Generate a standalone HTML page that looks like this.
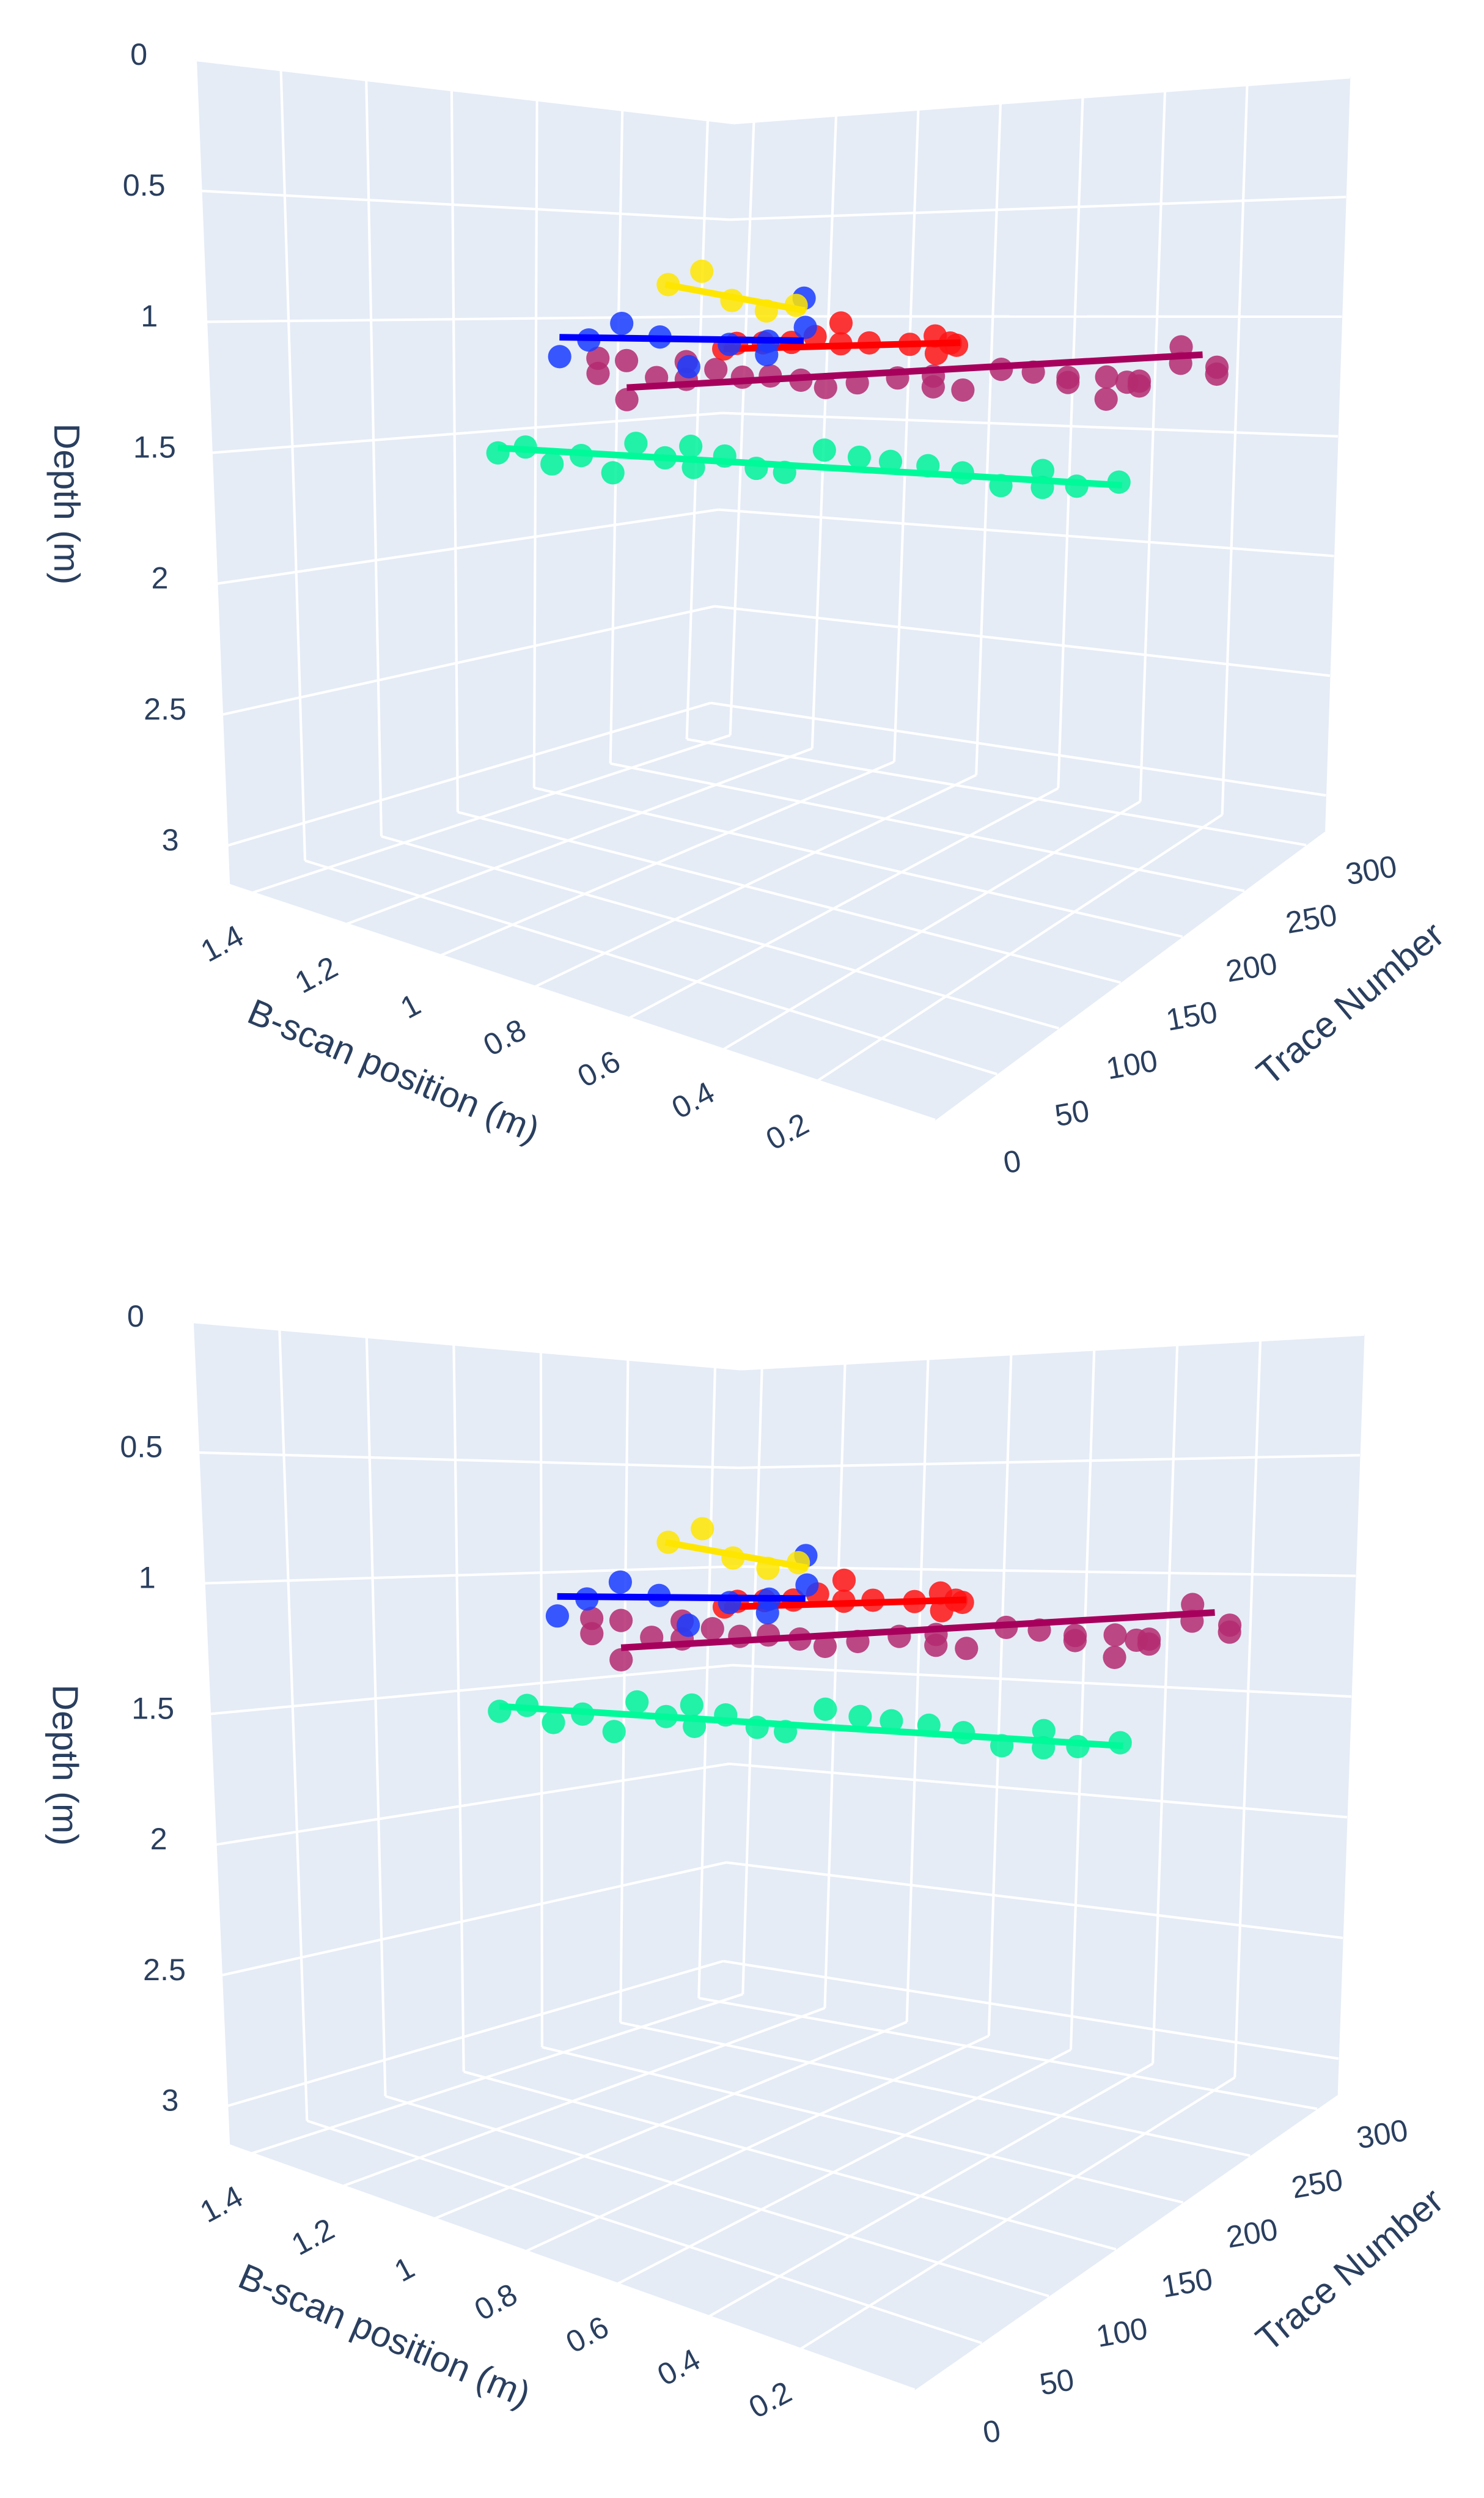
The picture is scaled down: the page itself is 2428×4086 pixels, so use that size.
<!DOCTYPE html>
<html><head><meta charset="utf-8"><style>
html,body{margin:0;padding:0;background:#fff;}
svg{display:block;font-family:"Liberation Sans","DejaVu Sans",sans-serif;}
</style></head><body>
<svg id="chart" width="2428" height="4086" viewBox="0 0 941 1583.6" preserveAspectRatio="none" xmlns="http://www.w3.org/2000/svg"></svg>
<script>
// ---- data (shared by both panels) ----
const xTicks = [0.2, 0.4, 0.6, 0.8, 1, 1.2, 1.4];
const tTicks = [0, 50, 100, 150, 200, 250, 300];
const dTicks = [0, 0.5, 1, 1.5, 2, 2.5, 3];

const greenX = [1.225,1.175,1.124,1.07,1.011,0.967,0.913,0.863,0.857,0.798,0.738,0.685,0.61,0.542,0.482,0.411,0.343,0.269,0.188,0.188,0.12,0.037];
const greenT = [113,116,118,121,124,126,129,131,131,134,137,140,144,147,150,154,157,161,165,165,168,172];
const greenD = [1.52,1.49,1.55,1.51,1.57,1.45,1.50,1.45,1.53,1.48,1.52,1.53,1.44,1.46,1.47,1.48,1.50,1.54,1.48,1.54,1.53,1.51];
const greenLineX = [1.225, 0.03], greenLineT = [113, 172], greenLineD = [1.50, 1.52];

const purpleX = [0.70,0.70,0.68,0.68,0.66,0.64,0.64,0.62,0.60,0.58,0.56,0.54,0.52,0.49,0.46,0.46,0.44,0.41,0.39,0.36,0.36,0.33,0.33,0.32,0.31,0.31,0.28,0.28,0.25,0.25];
const purpleT = [16,16,29,29,43,57,57,71,83,96,111,122,138,157,173,173,188,206,223,239,239,258,258,270,276,276,297,297,315,315];
const purpleD = [1.11,1.06,1.07,1.20,1.13,1.08,1.14,1.11,1.14,1.14,1.16,1.19,1.18,1.17,1.17,1.21,1.23,1.16,1.18,1.21,1.23,1.22,1.31,1.25,1.25,1.27,1.12,1.19,1.22,1.25];
const purpleLineX = [0.68, 0.26], purpleLineT = [29, 307], purpleLineD = [1.16, 1.16];

const redX = [0.775,0.763,0.74,0.71,0.69,0.665,0.665,0.64,0.60,0.575,0.575,0.56,0.555];
const redT = [126,131,142,152,162,172,172,184,200,210,211,216,219];
const redD = [1.07,1.05,1.05,1.05,1.03,0.98,1.06,1.06,1.07,1.04,1.11,1.07,1.08];
const redLineX = [0.775, 0.55], redLineT = [126, 220], redLineD = [1.07, 1.07];

const blueX = [0.925,0.895,0.86,0.82,0.79,0.75,0.71,0.71,0.67,0.67];
const blueT = [63,73,84,97,107,122,135,136,148,149];
const blueD = [1.09,1.03,0.97,1.02,1.13,1.05,1.09,1.04,0.88,0.99];
const blueLineX = [0.925, 0.67], blueLineT = [63, 148], blueLineD = [1.02, 1.04];

const yellowX = [0.847,0.81,0.78,0.74,0.71];
const yellowT = [111,122,133,144,155];
const yellowD = [0.83,0.78,0.89,0.93,0.91];
const yellowLineX = [0.85, 0.70], yellowLineT = [110, 158], yellowLineD = [0.83, 0.93];

// ---- axis ranges ----
const X_MAX = 1.45, X_SPAN = 1.5, T_MAX = 315, D_MAX = 3.15;
function sOf(x){ return (X_MAX - x) / X_SPAN; }
function rOf(t){ return t / T_MAX; }
function wOf(d){ return d / D_MAX; }

const panels = [
  {name:'top', T:[[124,38],[600,5],[465,78],[856,49]], B:[[145,561],[593,710],[450,464],[840,527]]},
  {name:'bottom', T:[[122,838],[595,800],[470,868],[865,846]], B:[[145,1360],[580,1515],[458,1262],[848,1328]]}
];
function bil(c, s, r){
  const a0 = c[0][0]*(1-s)+c[1][0]*s, a1 = c[0][1]*(1-s)+c[1][1]*s;
  const b0 = c[2][0]*(1-s)+c[3][0]*s, b1 = c[2][1]*(1-s)+c[3][1]*s;
  return [a0*(1-r)+b0*r, a1*(1-r)+b1*r];
}
function P(p, s, r, w){
  const t = bil(p.T, s, r), b = bil(p.B, s, r);
  return [t[0]*(1-w)+b[0]*w, t[1]*(1-w)+b[1]*w];
}
function proj(p, x, t, d){ return P(p, sOf(x), rOf(t), wOf(d)); }

const NS = 'http://www.w3.org/2000/svg';
const svg = document.getElementById('chart');
function mk(tag, attrs, parent){
  const e = document.createElementNS(NS, tag);
  for (const k in attrs) e.setAttribute(k, attrs[k]);
  (parent || svg).appendChild(e);
  return e;
}
function poly(pts){ return pts.map(q => q[0].toFixed(2)+','+q[1].toFixed(2)).join(' '); }

const series = [
  {key:'green', X:greenX, T:greenT, D:greenD, LX:greenLineX, LT:greenLineT, LD:greenLineD, mc:'#00f29a', lc:'#00fa9a'},
  {key:'purple', X:purpleX, T:purpleT, D:purpleD, LX:purpleLineX, LT:purpleLineT, LD:purpleLineD, mc:'#b42a70', lc:'#a6005c'},
  {key:'red', X:redX, T:redT, D:redD, LX:redLineX, LT:redLineT, LD:redLineD, mc:'#ff1414', lc:'#ff0000'},
  {key:'blue', X:blueX, T:blueT, D:blueD, LX:blueLineX, LT:blueLineT, LD:blueLineD, mc:'#1a3cff', lc:'#0000ff'},
  {key:'yellow', X:yellowX, T:yellowT, D:yellowD, LX:yellowLineX, LT:yellowLineT, LD:yellowLineD, mc:'#ffe600', lc:'#ffe600'}
];

panels.forEach(p => {
  const g = mk('g', {});
  
  
  const c = (s,r,w) => P(p,s,r,w);
  const lw = mk('polygon', {points: poly([c(0,0,0),c(0,1,0),c(0,1,1),c(0,0,1)]), fill:'#e5ecf6', stroke:'#e5ecf6', 'stroke-width':0.5}, g);
  
  
  const rw = mk('polygon', {points: poly([c(0,1,0),c(1,1,0),c(1,1,1),c(0,1,1)]), fill:'#e5ecf6', stroke:'#e5ecf6', 'stroke-width':0.5}, g);
  
  
  const fl = mk('polygon', {points: poly([c(0,0,1),c(1,0,1),c(1,1,1),c(0,1,1)]), fill:'#e5ecf6', stroke:'#e5ecf6', 'stroke-width':0.5}, g);
  
  
  const grid = mk('g', {stroke:'#ffffff', 'stroke-width':1.6, fill:'none'}, g);
  
  
  const ln = (a,b) => mk('line', {x1:a[0],y1:a[1],x2:b[0],y2:b[1]}, grid);
  dTicks.forEach(d => { const w = wOf(d); ln(c(0,0,w), c(0,1,w)); ln(c(0,1,w), c(1,1,w)); });
  tTicks.forEach(t => { const r = rOf(t); ln(c(0,r,0), c(0,r,1)); ln(c(0,r,1), c(1,r,1)); });
  xTicks.forEach(x => { const s = sOf(x); ln(c(s,1,0), c(s,1,1)); ln(c(s,0,1), c(s,1,1)); });

  const lab = mk('g', {fill:'#2a3f5f', 'font-size':19.5}, g);
  
  
  dTicks.forEach(d => {
    const q = c(0,0,wOf(d));
    const e = mk('text', {x:q[0]-36, y:q[1]+3, 'text-anchor':'middle'}, lab);
    
    
    e.textContent = d;
  });
  tTicks.forEach(t => {
    const r = rOf(t), q = c(1,r,1);
    const lx = q[0]+50-8*r, ly = q[1]+33-11*r;
    const e = mk('text', {x:lx, y:ly, 'text-anchor':'middle', transform:'rotate(-10 '+lx+' '+ly+')'}, lab);
    
    
    e.textContent = t;
  });
  xTicks.forEach(x => {
    const q = c(sOf(x),0,1);
    const lx = q[0]-16, ly = q[1]+38;
    const e = mk('text', {x:lx, y:ly, 'text-anchor':'middle', transform:'rotate(-28 '+lx+' '+ly+')'}, lab);
    
    
    e.textContent = x;
  });
  const ttl = mk('g', {fill:'#2a3f5f', 'font-size':23}, g);
  
  
  const mid = c(0,0,0.5);
  const dx = mid[0]-100, dy = mid[1]+20;
  const dt = mk('text', {x:dx, y:dy, 'text-anchor':'middle', transform:'rotate(90 '+dx+' '+dy+')'}, ttl);
  
  
  dt.textContent = 'Depth (m)';
  const bm = c(0.45,0,1);
  const bx = bm[0]-100, by = bm[1]+58;
  const bt = mk('text', {x:bx, y:by, 'text-anchor':'middle', transform:'rotate(23 '+bx+' '+by+')'}, ttl);
  
  
  bt.textContent = 'B-scan position (m)';
  const tm = c(1,0.6,1);
  const tx = tm[0]+120, ty = tm[1]+42;
  const tt = mk('text', {x:tx, y:ty, 'text-anchor':'middle', transform:'rotate(-40 '+tx+' '+ty+')'}, ttl);
  
  
  tt.textContent = 'Trace Number';

  series.forEach(se => {
    const sg = mk('g', {}, g);
    
    
    for (let i = 0; i < se.X.length; i++) {
      const q = proj(p, se.X[i], se.T[i], se.D[i]);
      const m = mk('circle', {cx:q[0], cy:q[1], r:7.4, fill:se.mc, 'fill-opacity':0.85}, sg);
      
      
    }
    const a = proj(p, se.LX[0], se.LT[0], se.LD[0]);
    const b = proj(p, se.LX[1], se.LT[1], se.LD[1]);
    const l = mk('line', {x1:a[0], y1:a[1], x2:b[0], y2:b[1], stroke:se.lc, 'stroke-width':4.2}, sg);
    
    
  });
});
</script>
</body></html>
